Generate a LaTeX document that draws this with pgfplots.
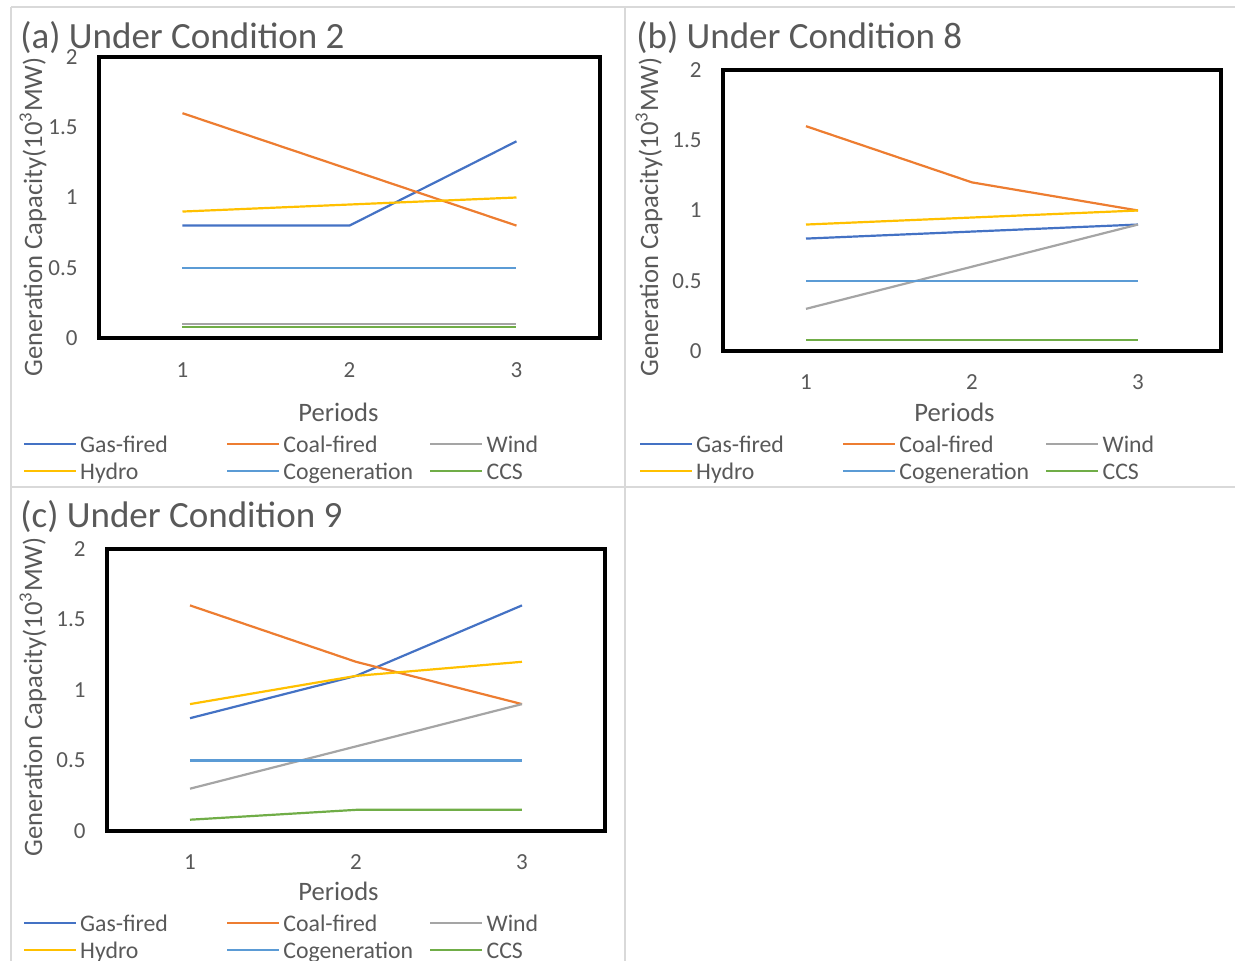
\documentclass[border=0pt]{standalone}
\usepackage{pgfplots}
\pgfplotsset{compat=1.18}
\usepackage{fontspec}
\setmainfont{Carlito}
\definecolor{cgas}{HTML}{4472C4}
\definecolor{ccoal}{HTML}{ED7D31}
\definecolor{cwind}{HTML}{A5A5A5}
\definecolor{chydro}{HTML}{FFC000}
\definecolor{ccogen}{HTML}{5B9BD5}
\definecolor{cccs}{HTML}{70AD47}
\definecolor{tgray}{HTML}{595959}
\definecolor{bgray}{HTML}{D9D9D9}
\pgfplotsset{
  panel/.style={
    scale only axis, xmin=0.5, xmax=3.5, ymin=0, ymax=2,
    xtick={1,2,3}, xticklabels={1,2,3},
    ytick={0,0.5,1,1.5,2}, yticklabels={0,0.5,1,1.5,2},
    major tick length=0pt,
    axis line style={line width=2bp, black},
    tick label style={font=\fontsize{11.5bp}{13bp}\selectfont, text=tgray},
    yticklabel style={anchor=east, inner sep=0pt, xshift=-10.5bp},
    xticklabel style={anchor=center, inner sep=0pt},
    label style={font=\fontsize{13.3bp}{15bp}\selectfont, text=tgray},
    xlabel={Periods},
    ylabel={Generation Capacity(10\textsuperscript{3}MW)},
    xlabel style={anchor=center},
    ylabel style={anchor=center},
    legend columns=3,
    legend cell align=left,
    legend style={draw=none, fill=none, inner sep=0pt, outer sep=0pt,
      column sep=0pt, row sep=0pt, anchor=north west,
      font=\fontsize{11.9bp}{13bp}\selectfont, text=tgray,
      nodes={inner xsep=1.5bp, inner ysep=0pt, text width=71.5bp,
        text height=11bp, text depth=2.5bp, align=left}},
    legend image code/.code={\draw[##1] (0bp,0bp) -- (26bp,0bp);},
    every axis plot/.append style={line width=1.1bp, mark=none},
  },
}
\begin{document}
\begin{tikzpicture}
\useasboundingbox (0,0) rectangle (617.5bp,480.5bp);
\draw[bgray, line width=1bp] (5.5bp,477bp) -- (617.5bp,477bp);
\draw[bgray, line width=1bp] (5.5bp,477bp) -- (5.5bp,0bp);
\draw[bgray, line width=1bp] (312.5bp,477bp) -- (312.5bp,0bp);
\draw[bgray, line width=1bp] (5.5bp,237bp) -- (617.5bp,237bp);

\node[anchor=base west, inner sep=0pt, text=tgray, font=\fontsize{18.5bp}{20bp}\selectfont] at (10bp,456bp) {(a) Under Condition 2};
\node[anchor=base west, inner sep=0pt, text=tgray, font=\fontsize{18.5bp}{20bp}\selectfont] at (318bp,456bp) {(b) Under Condition 8};
\node[anchor=base west, inner sep=0pt, text=tgray, font=\fontsize{18.5bp}{20bp}\selectfont] at (10bp,216.5bp) {(c) Under Condition 9};

% (a)
\begin{axis}[panel, at={(49.5bp,311.5bp)}, anchor=south west,
  width=250.5bp, height=140.5bp,
  xticklabel style={yshift=-16bp},
  ylabel style={at={(axis description cs:-0.1317,0.4306)}},
  xlabel style={at={(axis description cs:0.478,-0.263)}},
  legend style={at={(axis description cs:-0.1517,-0.3292)}}]
\addplot[cgas] coordinates {(1,0.8)(2,0.8)(3,1.4)}; \addlegendentry{Gas-fired}
\addplot[ccoal] coordinates {(1,1.6)(2,1.2)(3,0.8)}; \addlegendentry{Coal-fired}
\addplot[cwind] coordinates {(1,0.1)(2,0.1)(3,0.1)}; \addlegendentry{Wind}
\addplot[chydro] coordinates {(1,0.9)(2,0.95)(3,1.0)}; \addlegendentry{Hydro}
\addplot[ccogen] coordinates {(1,0.5)(2,0.5)(3,0.5)}; \addlegendentry{Cogeneration}
\addplot[cccs] coordinates {(1,0.08)(2,0.08)(3,0.08)}; \addlegendentry{CCS}
\end{axis}

% (b)
\begin{axis}[panel, at={(361.5bp,305bp)}, anchor=south west,
  width=249bp, height=140.5bp,
  xticklabel style={yshift=-15.5bp},
  ylabel style={at={(axis description cs:-0.1486,0.4769)}},
  xlabel style={at={(axis description cs:0.4649,-0.2171)}},
  legend style={at={(axis description cs:-0.1687,-0.2829)}}]
\addplot[cgas] coordinates {(1,0.8)(2,0.85)(3,0.9)}; \addlegendentry{Gas-fired}
\addplot[ccoal] coordinates {(1,1.6)(2,1.2)(3,1.0)}; \addlegendentry{Coal-fired}
\addplot[cwind] coordinates {(1,0.3)(2,0.6)(3,0.9)}; \addlegendentry{Wind}
\addplot[chydro] coordinates {(1,0.9)(2,0.95)(3,1.0)}; \addlegendentry{Hydro}
\addplot[ccogen] coordinates {(1,0.5)(2,0.5)(3,0.5)}; \addlegendentry{Cogeneration}
\addplot[cccs] coordinates {(1,0.08)(2,0.08)(3,0.08)}; \addlegendentry{CCS}
\end{axis}

% (c)
\begin{axis}[panel, at={(53.5bp,65bp)}, anchor=south west,
  width=249bp, height=141bp,
  xticklabel style={yshift=-15.5bp},
  ylabel style={at={(axis description cs:-0.1486,0.475)}},
  xlabel style={at={(axis description cs:0.4649,-0.2128)}},
  legend style={at={(axis description cs:-0.1687,-0.2784)}}]
\addplot[cgas] coordinates {(1,0.8)(2,1.1)(3,1.6)}; \addlegendentry{Gas-fired}
\addplot[ccoal] coordinates {(1,1.6)(2,1.2)(3,0.9)}; \addlegendentry{Coal-fired}
\addplot[cwind] coordinates {(1,0.3)(2,0.6)(3,0.9)}; \addlegendentry{Wind}
\addplot[chydro] coordinates {(1,0.9)(2,1.1)(3,1.2)}; \addlegendentry{Hydro}
\addplot[ccogen] coordinates {(1,0.5)(2,0.5)(3,0.5)}; \addlegendentry{Cogeneration}
\addplot[cccs] coordinates {(1,0.08)(2,0.15)(3,0.15)}; \addlegendentry{CCS}
\end{axis}
\end{tikzpicture}
\end{document}
